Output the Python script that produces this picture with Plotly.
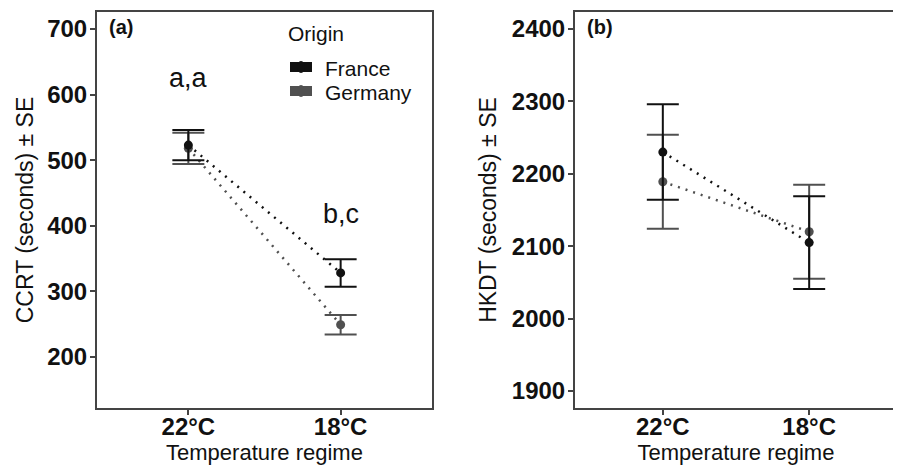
import plotly.graph_objects as go

# ---- data ----
temps = ["22°C", "18°C"]
origins = ["France", "Germany"]

ccrt_france = [523, 328]
ccrt_france_se = [23, 21]
ccrt_germany = [518, 249]
ccrt_germany_se = [24, 15]

hkdt_france = [2230, 2105]
hkdt_france_se = [66, 64]
hkdt_germany = [2189, 2120]
hkdt_germany_se = [65, 65]

ccrt_letters = ["a,a", "b,c"]

ccrt_ticks = [200, 300, 400, 500, 600, 700]
hkdt_ticks = [1900, 2000, 2100, 2200, 2300, 2400]

colors = {"France": "#111111", "Germany": "#505050"}
FONT = "Liberation Sans, Arial, Helvetica, sans-serif"

# page body has an 8px margin: compensate so screen pixels match the reference
OX, OY = 8, 8
W, H = 893, 462


def px(x):
    return (x - OX) / W


def py(y):
    return 1 - (y - OY) / H


fig = go.Figure()

series = {
    ("x", "y"): {"France": (ccrt_france, ccrt_france_se),
                 "Germany": (ccrt_germany, ccrt_germany_se)},
    ("x2", "y2"): {"France": (hkdt_france, hkdt_france_se),
                   "Germany": (hkdt_germany, hkdt_germany_se)},
}

for (xa, ya), d in series.items():
    for org in ["Germany", "France"]:
        vals, se = d[org]
        c = colors[org]
        fig.add_trace(go.Scatter(
            x=temps, y=vals, xaxis=xa, yaxis=ya, mode="lines+markers",
            line=dict(color=c, width=2.5, dash="2px,6px"),
            marker=dict(color=c, size=9),
            error_y=dict(type="data", array=se, color=c, thickness=2, width=16),
            showlegend=False, hoverinfo="skip"))

# letters
for t, txt, yy in zip(temps, ccrt_letters, [626, 418]):
    fig.add_annotation(x=t, y=yy, xref="x", yref="y", text=txt, showarrow=False,
                       font=dict(family=FONT, size=27, color="#111"),
                       xanchor="center", yanchor="middle")

# panel labels
for lbl, xx in [("(a)", 107), ("(b)", 585)]:
    fig.add_annotation(x=px(xx), y=py(27), xref="paper", yref="paper", text="<b>" + lbl + "</b>",
                       showarrow=False, xanchor="left", yanchor="middle",
                       font=dict(family=FONT, size=20, color="#111"))

# legend (drawn manually to match ggplot's compact layout)
fig.add_annotation(x=px(286), y=py(34), xref="paper", yref="paper", text="Origin",
                   showarrow=False, xanchor="left", yanchor="middle",
                   font=dict(family=FONT, size=21, color="#111"))
for org, yc in zip(origins, [67, 91]):
    fig.add_shape(type="rect", xref="paper", yref="paper",
                  x0=px(290), x1=px(312), y0=py(yc - 5), y1=py(yc + 5),
                  fillcolor=colors[org], line=dict(width=0))
    fig.add_shape(type="circle", xref="paper", yref="paper",
                  x0=px(297), x1=px(305), y0=py(yc - 6), y1=py(yc + 6),
                  fillcolor=colors[org], line=dict(width=0))
    fig.add_annotation(x=px(323), y=py(yc + 1), xref="paper", yref="paper", text=org,
                       showarrow=False, xanchor="left", yanchor="middle",
                       font=dict(family=FONT, size=21, color="#111"))

ydom = [py(408), py(12)]
axis_common = dict(showline=True, mirror=True, linecolor="#444", linewidth=2,
                   ticks="outside", ticklen=5, tickwidth=1.5, tickcolor="#444",
                   showgrid=False, zeroline=False, automargin=False)

xcommon = dict(axis_common, type="category", range=[-0.6, 1.6],
               ticklabelstandoff=-9,
               tickfont=dict(family=FONT, size=24, color="#111", weight="bold"),
               title=dict(text="Temperature regime", font=dict(family=FONT, size=22, color="#111"),
                          standoff=0))

ycommon = dict(axis_common, domain=ydom, ticklabelstandoff=-2,
               tickfont=dict(family=FONT, size=24, color="#111", weight="bold"))

fig.update_layout(
    width=W, height=H, margin=dict(l=0, r=0, t=0, b=0, autoexpand=False),
    paper_bgcolor="white", plot_bgcolor="white", showlegend=False,
    xaxis=dict(xcommon, domain=[px(97), px(432)], anchor="y"),
    xaxis2=dict(xcommon, domain=[px(575), px(897)], anchor="y2"),
    yaxis=dict(ycommon, anchor="x", range=[122, 726], tickvals=ccrt_ticks,
               title=dict(text="CCRT (seconds) ± SE", font=dict(family=FONT, size=23, color="#111"),
                          standoff=7)),
    yaxis2=dict(ycommon, anchor="x2", range=[1876.5, 2423.5], tickvals=hkdt_ticks,
                title=dict(text="HKDT (seconds) ± SE", font=dict(family=FONT, size=23, color="#111"),
                           standoff=9)),
)

fig.write_html("out.html")
